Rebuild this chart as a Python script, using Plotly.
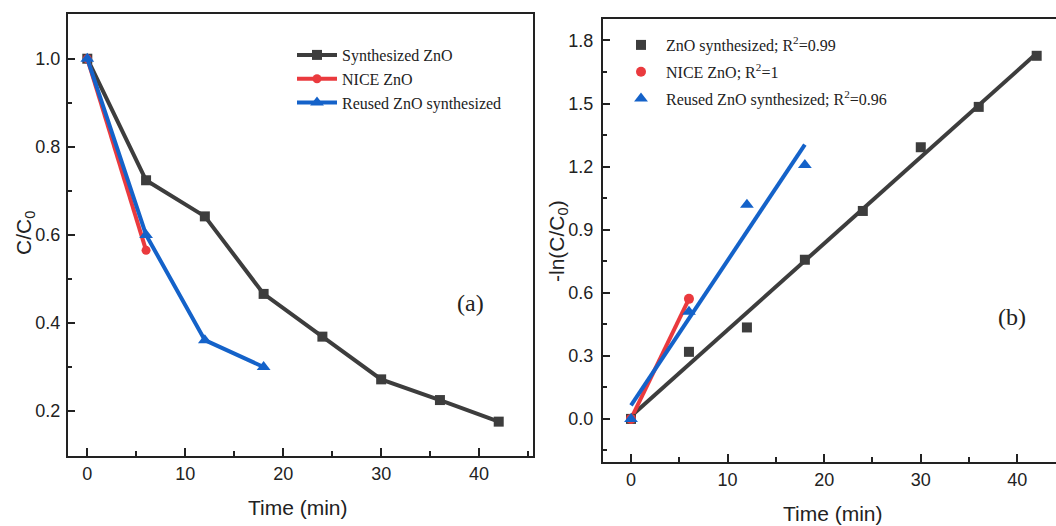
import numpy as np
import plotly.graph_objects as go

# Irradiation time (min)
time_synth = [0, 6, 12, 18, 24, 30, 36, 42]
time_nice = [0, 6]
time_reused = [0, 6, 12, 18]

# (a) normalised concentration C/C0
c_synth = [1.0, 0.724, 0.642, 0.466, 0.369, 0.272, 0.225, 0.176]
c_nice = [1.0, 0.565]
c_reused = [1.0, 0.600, 0.361, 0.300]

# (b) pseudo-first-order kinetics, -ln(C/C0)
k_synth = [0.0, 0.319, 0.435, 0.757, 0.989, 1.292, 1.484, 1.727]
k_nice = [0.0, 0.571]
k_reused = [0.0, 0.510, 1.019, 1.208]

names_a = ["Synthesized ZnO", "NICE ZnO", "Reused ZnO synthesized"]
names_b = ["ZnO synthesized; R<sup>2</sup>=0.99",
           "NICE ZnO; R<sup>2</sup>=1",
           "Reused ZnO synthesized; R<sup>2</sup>=0.96"]

DARK = "#3d3d3d"
RED = "#ea3a3e"
BLUE = "#1462c9"
SANS = "Liberation Sans, Arial, sans-serif"
SERIF = "Liberation Serif, Times New Roman, serif"

W, H = 1056, 526

fig = go.Figure()

# ---- panel (a): decay curves ----
series_a = [
    (time_synth, c_synth, DARK, "square", 10),
    (time_nice, c_nice, RED, "circle", 9),
    (time_reused, c_reused, BLUE, "triangle-up", 12),
]
for (t, c, col, sym, sz), nm in zip(series_a, names_a):
    fig.add_trace(go.Scatter(
        x=t, y=c, mode="lines+markers", name=nm,
        line=dict(color=col, width=4),
        marker=dict(symbol=sym, size=sz, color=col),
        xaxis="x", yaxis="y", legend="legend",
    ))

# ---- panel (b): kinetics points with linear fits ----
series_b = [
    (time_synth, k_synth, DARK, "square", 10),
    (time_nice, k_nice, RED, "circle", 10),
    (time_reused, k_reused, BLUE, "triangle-up", 12),
]
for (t, k, col, sym, sz), nm in zip(series_b, names_b):
    slope, icpt = np.polyfit(t, k, 1)
    tt = np.array([t[0], t[-1]], dtype=float)
    fig.add_trace(go.Scatter(
        x=tt, y=slope * tt + icpt, mode="lines", showlegend=False,
        line=dict(color=col, width=4), hoverinfo="skip",
        xaxis="x2", yaxis="y2",
    ))
for i, ((t, k, col, sym, sz), nm) in enumerate(zip(series_b, names_b)):
    fig.add_trace(go.Scatter(
        x=t, y=k, mode="markers", name=nm, legendgroup=f"kin{i}",
        marker=dict(symbol=sym, size=sz, color=col),
        xaxis="x2", yaxis="y2", legend="legend2",
    ))

tickfont = dict(family=SANS, size=18, color="#222")
common = dict(showline=True, linecolor="#222", linewidth=2, ticks="inside",
              tickcolor="#222", tickwidth=1.5, showgrid=False, zeroline=False,
              tickfont=tickfont)


def px_x(p):
    return p / W


def px_y(p):
    return (H - p) / H


def label(text, x, y, size=21, family=SANS, angle=0):
    return dict(text=text, x=px_x(x), y=px_y(y), xref="paper", yref="paper",
                xanchor="center", yanchor="middle", textangle=angle,
                showarrow=False, font=dict(family=family, size=size, color="#222"))


fig.update_layout(
    width=W, height=H,
    margin=dict(l=0, r=0, t=0, b=0),
    paper_bgcolor="white", plot_bgcolor="white",
    showlegend=True,
    xaxis=dict(domain=[px_x(68), px_x(533)], range=[-1.97, 45.5],
               dtick=10, tick0=0, ticklen=8, mirror=True, ticklabelstandoff=0,
               minor=dict(dtick=5, tick0=0, ticklen=5, ticks="inside", tickcolor="#222"),
               anchor="y", **common),
    yaxis=dict(domain=[px_y(456), px_y(14)], range=[0.098, 1.1015],
               dtick=0.2, tick0=0, ticklen=7, tickformat=".1f", mirror=True,
               ticklabelstandoff=2,
               minor=dict(dtick=0.1, tick0=0, ticklen=4, ticks="inside", tickcolor="#222"),
               anchor="x", **common),
    xaxis2=dict(domain=[px_x(603), 1.0], range=[-2.9, 44.0],
                dtick=10, tick0=0, ticklen=8, mirror=True, ticklabelstandoff=0,
                minor=dict(dtick=5, tick0=0, ticklen=5, ticks="inside", tickcolor="#222"),
                anchor="y2", **common),
    yaxis2=dict(domain=[px_y(462), px_y(19)], range=[-0.205, 1.902],
                dtick=0.3, tick0=0, ticklen=7, tickformat=".1f", mirror=False,
                ticklabelstandoff=4,
                minor=dict(dtick=0.15, tick0=0, ticklen=4, ticks="inside", tickcolor="#222"),
                anchor="x2", **common),
    legend=dict(x=px_x(292), y=px_y(38), xanchor="left", yanchor="top",
                bgcolor="rgba(0,0,0,0)", font=dict(family=SERIF, size=16, color="#222"),
                itemwidth=40, tracegroupgap=0),
    legend2=dict(x=px_x(616), y=px_y(28), xanchor="left", yanchor="top",
                 bgcolor="rgba(0,0,0,0)", font=dict(family=SERIF, size=16, color="#222"),
                 itemwidth=40, tracegroupgap=3),
    annotations=[
        label("C/C<sub>0</sub>", 25, 233),
        label("Time (min)", 298, 507),
        label("-ln(C/C<sub>0</sub>)", 558, 241),
        label("Time (min)", 833, 513),
        label("(a)", 470, 303, size=24, family=SERIF),
        label("(b)", 1012, 317, size=24, family=SERIF),
    ],
)
# axis titles on the y axes are vertical
fig.layout.annotations[0].textangle = -90
fig.layout.annotations[2].textangle = -90

fig.write_html("out.html")
